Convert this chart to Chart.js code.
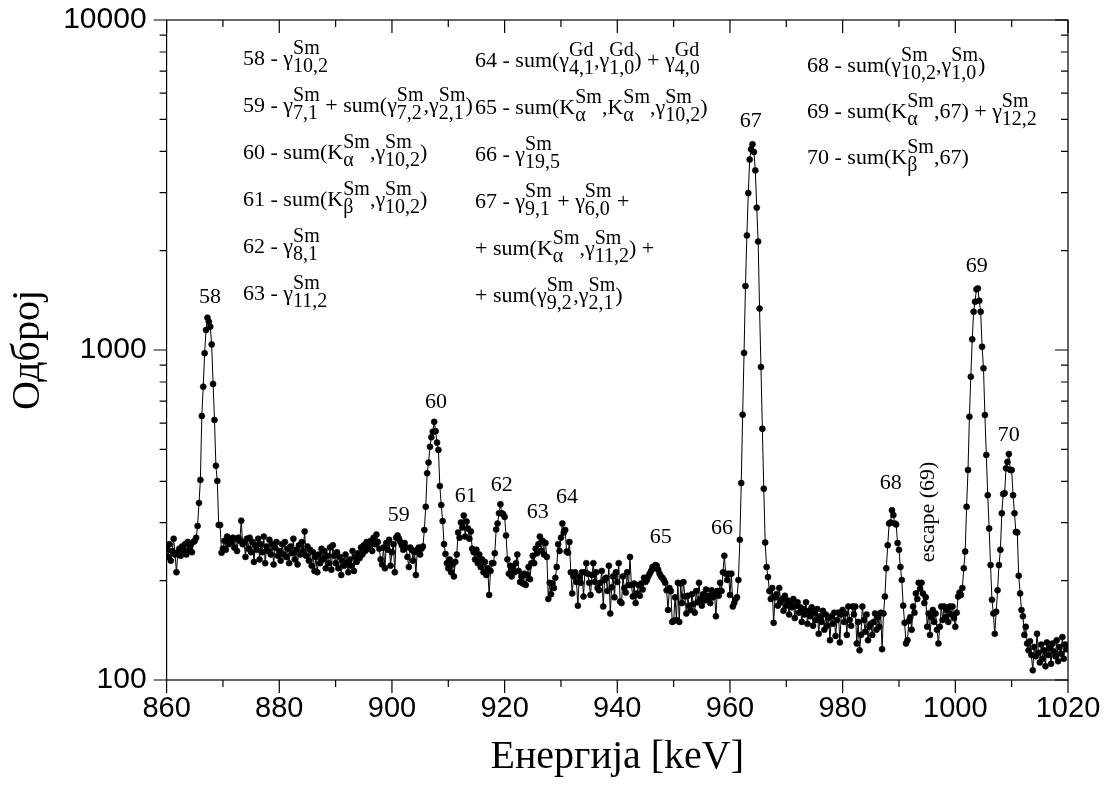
<!DOCTYPE html>
<html>
<head>
<meta charset="utf-8">
<script src="https://cdn.jsdelivr.net/npm/chart.js@4.4.0/dist/chart.umd.min.js"></script>
<style>
  html, body { margin: 0; padding: 0; background: #fff; }
  #wrap { width: 1112px; height: 791px; }
</style>
</head>
<body>
<div id="wrap"><canvas id="c" width="1112" height="791"></canvas></div>
<script>
// ---------------- DATA ----------------
const energyStart = 860;     // keV, first channel
const energyStep = 0.25;     // keV per channel

const countsA = [ // 860 - 879.75 keV
  250,236,258,230,246,268,240,212,244,250,238,254,246,258,240,262,248,256,244,262,
  264,270,293,344,404,631,774,978,1150,1253,1218,1177,1040,789,614,446,401,295,295,243,
  250,264,248,272,258,266,262,270,252,268,246,270,264,304,258,262,236,268,250,270,
  244,262,228,256,248,268,232,258,244,272,226,254,246,266,240,258,224,252,262,238
];
const countsB = [ // 880 - 899.75 keV
  246,230,258,240,262,236,250,226,254,242,268,232,248,224,256,240,262,246,282,238,
  254,230,248,222,244,214,236,212,240,226,250,232,246,218,238,226,252,216,256,238,
  226,244,218,236,208,230,222,240,226,212,232,222,246,214,236,228,242,234,252,240,
  256,246,262,250,258,264,246,270,258,276,262,250,232,224,252,218,260,248,266,222
];
const countsC = [ // 900 - 919.75 keV
  244,258,212,270,274,268,262,256,248,260,252,236,220,252,248,230,244,208,248,252,
  240,250,254,285,335,423,456,509,544,565,606,567,524,498,387,339,303,258,241,226,
  218,232,212,224,206,228,240,280,270,300,290,315,272,302,288,268,282,250,244,232,
  248,226,240,220,232,212,228,208,218,181,214,226,226,242,286,298,320,341,320,318
];
const countsD = [ // 920 - 939.75 keV
  312,274,232,210,222,206,218,212,226,240,214,198,206,196,210,194,208,220,202,226,
  238,226,250,242,258,272,246,264,240,260,236,176,197,182,196,190,204,220,258,246,
  270,298,280,285,245,243,262,212,183,206,212,198,168,206,197,212,179,212,226,210,
  197,181,208,226,198,212,190,187,197,214,167,201,204,186,222,159,191,206,178,212
];
const countsE = [ // 940 - 959.75 keV
  198,226,173,171,206,190,184,212,194,236,194,179,196,171,183,194,180,196,188,204,
  198,201,206,210,214,220,218,223,222,216,210,206,204,201,197,187,163,190,186,150,
  151,178,152,197,150,196,171,198,179,159,180,168,163,182,170,160,186,172,197,176,
  168,182,174,188,176,180,171,187,178,184,156,186,180,197,186,212,238,210,201,210
];
const countsF = [ // 960 - 979.75 keV
  181,210,167,171,176,178,201,266,395,637,980,1563,2225,2990,3775,4060,4204,3981,3501,2700,
  2131,1335,888,577,380,261,220,205,186,176,190,149,178,182,168,190,172,176,162,180,
  168,174,158,170,166,176,154,168,172,160,166,150,164,158,172,148,162,156,166,146,
  160,152,164,138,156,150,162,142,158,146,154,132,156,148,160,136,152,160,130,158
];
const countsG = [ // 980 - 999.75 keV
  163,150,159,137,167,152,146,167,158,167,129,150,123,137,167,152,140,158,132,145,
  148,137,150,159,142,155,145,160,124,159,179,218,256,298,300,327,316,298,296,260,
  248,220,201,168,149,129,132,151,155,142,167,160,183,176,197,189,197,183,171,178,
  145,159,137,155,163,150,159,142,129,145,167,152,167,155,163,150,167,158,167,154
];
const countsH = [ // 1000 - 1019.75 keV
  145,160,179,184,181,190,218,245,335,433,628,830,1077,1306,1400,1527,1537,1410,1306,1023,
  880,635,481,363,288,223,175,159,138,161,187,223,248,320,366,368,438,458,484,433,
  433,363,320,281,280,207,183,163,156,137,145,129,123,131,119,107,126,118,138,121,
  113,128,116,123,110,130,119,125,112,129,122,118,132,114,126,120,135,116,128,124
];

const xTickValues = [860, 880, 900, 920, 940, 960, 980, 1000, 1020];
const xMinorTickValues = [870, 890, 910, 930, 950, 970, 990, 1010];
const yTickValues = [100, 1000, 10000];
const yMinorTickValues = [200,300,400,500,600,700,800,900,2000,3000,4000,5000,6000,7000,8000,9000];

// peak labels: text, energy, counts (anchor in data space)
const peakLabels = ['58','59','60','61','62','63','64','65','66','67','68','69','70'];
const peakLabelEnergy = [867.7, 901.2, 907.8, 913.1, 919.5, 925.9, 931.05, 947.7, 958.6, 963.7, 988.55, 1003.8, 1009.5];
const peakLabelCounts = [1447, 316, 696, 361, 390, 323, 358, 271, 289, 4943, 395, 1797, 553];
const escapeLabel = 'escape (69)';
const escapeEnergy = 995.1, escapeCounts = 323;

// assignment texts: {sup|sub} = stacked superscript / subscript
const legendCol1 = [
  '58 - γ{Sm|10,2}',
  '59 - γ{Sm|7,1} + sum(γ{Sm|7,2},γ{Sm|2,1})',
  '60 - sum(K{Sm|α},γ{Sm|10,2})',
  '61 - sum(K{Sm|β},γ{Sm|10,2})',
  '62 - γ{Sm|8,1}',
  '63 - γ{Sm|11,2}'
];
const legendCol2 = [
  '64 - sum(γ{Gd|4,1},γ{Gd|1,0}) + γ{Gd|4,0}',
  '65 - sum(K{Sm|α},K{Sm|α},γ{Sm|10,2})',
  '66 - γ{Sm|19,5}',
  '67 - γ{Sm|9,1} + γ{Sm|6,0} +',
  '+ sum(K{Sm|α},γ{Sm|11,2}) +',
  '+ sum(γ{Sm|9,2},γ{Sm|2,1})'
];
const legendCol3 = [
  '68 - sum(γ{Sm|10,2},γ{Sm|1,0})',
  '69 - sum(K{Sm|α},67) + γ{Sm|12,2}',
  '70 - sum(K{Sm|β},67)'
];

// ---------------- LAYOUT / STYLE ----------------
const SERIF = '"Liberation Serif", "Times New Roman", Times, serif';
const SANS = '"Liberation Sans", Arial, Helvetica, sans-serif';
const legendLayout = [
  { lines: legendCol1, x: 243, y0: 65, dy: 47 },
  { lines: legendCol2, x: 475, y0: 67, dy: 47 },
  { lines: legendCol3, x: 807, y0: 72, dy: 46 }
];

const counts = [].concat(countsA, countsB, countsC, countsD, countsE, countsF, countsG, countsH);
const points = counts.map((c, i) => ({ x: energyStart + i * energyStep, y: c }));

function drawRich(ctx, str, x, y) {
  const mainFont = '22px ' + SERIF;
  const smallFont = '20px ' + SERIF;
  const re = /\{([^|}]*)\|([^}]*)\}/g;
  let last = 0, m, cx = x;
  ctx.textAlign = 'left';
  ctx.textBaseline = 'alphabetic';
  const txt = (t) => {
    if (!t) return;
    ctx.font = mainFont;
    ctx.fillText(t, cx, y);
    cx += ctx.measureText(t).width;
  };
  while ((m = re.exec(str)) !== null) {
    txt(str.slice(last, m.index));
    ctx.font = smallFont;
    const w1 = ctx.measureText(m[1]).width;
    const w2 = ctx.measureText(m[2]).width;
    ctx.fillText(m[1], cx, y - 11);
    ctx.fillText(m[2], cx, y + 7);
    cx += Math.max(w1, w2);
    last = re.lastIndex;
  }
  txt(str.slice(last));
}

const framePlugin = {
  id: 'frameTicks',
  afterDraw(chart) {
    const { ctx, chartArea: a, scales: { x, y } } = chart;
    ctx.save();
    ctx.strokeStyle = '#000';
    ctx.lineWidth = 1.2;
    ctx.strokeRect(a.left, a.top, a.right - a.left, a.bottom - a.top);
    ctx.beginPath();
    const tick = (px, major, horiz) => {
      const len = major ? 13 : 7;
      if (horiz) {
        ctx.moveTo(px, a.bottom); ctx.lineTo(px, a.bottom + len);
        ctx.moveTo(px, a.top); ctx.lineTo(px, a.top + len);
      } else {
        ctx.moveTo(a.left, px); ctx.lineTo(a.left - len, px);
        ctx.moveTo(a.right, px); ctx.lineTo(a.right - len, px);
      }
    };
    xTickValues.forEach(v => tick(x.getPixelForValue(v), true, true));
    xMinorTickValues.forEach(v => tick(x.getPixelForValue(v), false, true));
    yTickValues.forEach(v => tick(y.getPixelForValue(v), true, false));
    yMinorTickValues.forEach(v => tick(y.getPixelForValue(v), false, false));
    ctx.stroke();

    // annotations
    ctx.fillStyle = '#000';
    legendLayout.forEach(col => {
      col.lines.forEach((line, k) => drawRich(ctx, line, col.x, col.y0 + k * col.dy));
    });
    ctx.font = '22px ' + SERIF;
    ctx.textAlign = 'center';
    ctx.textBaseline = 'middle';
    peakLabels.forEach((t, k) => {
      ctx.fillText(t, x.getPixelForValue(peakLabelEnergy[k]), y.getPixelForValue(peakLabelCounts[k]));
    });
    ctx.save();
    ctx.translate(x.getPixelForValue(escapeEnergy), y.getPixelForValue(escapeCounts));
    ctx.rotate(-Math.PI / 2);
    ctx.fillText(escapeLabel, 0, 0);
    ctx.restore();
    ctx.restore();
  }
};

new Chart(document.getElementById('c'), {
  type: 'line',
  data: {
    datasets: [{
      data: points,
      borderColor: '#000',
      borderWidth: 1,
      pointRadius: 3,
      pointBackgroundColor: '#000',
      pointBorderColor: '#000',
      pointBorderWidth: 0.6,
      tension: 0,
      fill: false
    }]
  },
  options: {
    responsive: false,
    devicePixelRatio: 1,
    animation: false,
    events: [],
    layout: { padding: { top: 20, right: 44, left: 0, bottom: 0 } },
    plugins: { legend: { display: false }, tooltip: { enabled: false } },
    scales: {
      x: {
        type: 'linear',
        position: 'bottom',
        min: 860,
        max: 1020,
        afterFit: s => { s.height = 111; s.paddingLeft = 0; s.paddingRight = 0; },
        afterBuildTicks: s => { s.ticks = xTickValues.map(v => ({ value: v })); },
        grid: { display: false, drawTicks: false },
        border: { display: false },
        ticks: {
          autoSkip: false, maxRotation: 0, padding: 12, color: '#000',
          font: { family: SANS, size: 29 },
          callback: v => String(v)
        },
        title: {
          display: true, text: 'Енергија [keV]', color: '#000',
          font: { family: SERIF, size: 40 },
          padding: { top: 0, bottom: 10 }
        }
      },
      y: {
        type: 'logarithmic',
        position: 'left',
        min: 100,
        max: 10000,
        afterFit: s => { s.width = 166.6; s.paddingTop = 0; s.paddingBottom = 0; },
        afterBuildTicks: s => { s.ticks = yTickValues.map(v => ({ value: v })); },
        grid: { display: false, drawTicks: false },
        border: { display: false },
        ticks: {
          autoSkip: false, padding: 20, color: '#000',
          font: { family: SANS, size: 30 },
          callback: v => String(v)
        },
        title: {
          display: true, text: 'Одброј', color: '#000',
          font: { family: SERIF, size: 40 },
          padding: { top: 4, bottom: 0 }
        }
      }
    }
  },
  plugins: [framePlugin]
});
</script>
</body>
</html>
